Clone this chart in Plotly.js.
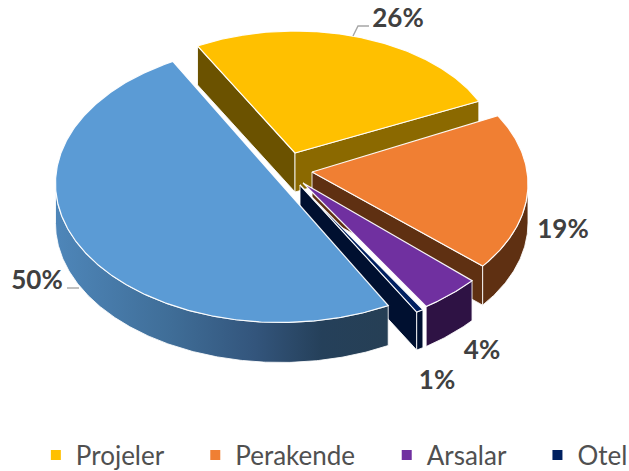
<!DOCTYPE html>
<html><head><meta charset="utf-8">
<script src="https://cdn.plot.ly/plotly-3.0.1.min.js"></script>
<style>html,body{margin:0;padding:0;background:#fff}</style></head>
<body><div id="chart" style="width:629px;height:471px"></div>
<script>
// Data
const categories = ['Projeler', 'Perakende', 'Arsalar', 'Otel', 'Konut'];
const values = [26, 19, 4, 0.5, 50];
const legendNames = ['Projeler', 'Perakende', 'Arsalar', 'Otel'];

// Styles
const topColors = ['#FFC000', '#F07F33', '#7030A0', '#002060', '#5B9BD5'];
const DEG = Math.PI / 180;
// Projection of each exploded slice (perspective makes each differ slightly)
const geom = [
  {ax:295, ay:153, cx:295, cy:153, a:203, b:122, t0:-28.7, d:39},
  {ax:312, ay:172, cx:312, cy:184, a:216, b:134, t0:59.4, d:39},
  {ax:303, ay:183, cx:303, cy:166, a:235, b:165, t0:134, d:40},
  {ax:300, ay:185, cx:300, cy:185, a:232, b:147, t0:148, d:38},
  {ax:280.5, ay:183.5, cx:280.5, cy:183.5, a:225, b:139, t0:151.4, d:40}
];
const sweep = i => values[i] / 100 * 360;
const pt = (g, t, dy = 0) => [g.cx + g.a * Math.sin(t * DEG), g.cy - g.b * Math.cos(t * DEG) + dy];
function arc(g, t1, t2, dy = 0) {
  const n = Math.max(2, Math.ceil(Math.abs(t2 - t1) * 2));
  const out = [];
  for (let k = 0; k <= n; k++) out.push(pt(g, t1 + (t2 - t1) * k / n, dy));
  return out;
}
function poly(points, fill, extra = {}) {
  const closed = points.concat([points[0]]);
  return Object.assign({
    type: 'scatter', mode: 'lines', x: closed.map(p => p[0]), y: closed.map(p => p[1]),
    fill: 'toself', fillcolor: fill, line: {color: 'rgba(255,255,255,0.85)', width: 1},
    showlegend: false, hoverinfo: 'skip'
  }, extra);
}
function topFace(i) {
  const g = geom[i];
  return poly([[g.ax, g.ay]].concat(arc(g, g.t0, g.t0 + sweep(i))), topColors[i],
    {line: {color: 'rgba(255,255,255,0.95)', width: 1.2}, name: categories[i]});
}
// Flat cut face running from the apex to the outer corner at angle t
function cutFace(i, t, color) {
  const g = geom[i], p = pt(g, t);
  return poly([[g.ax, g.ay], p, [p[0], p[1] + g.d], [g.ax, g.ay + g.d]], color);
}
// Curved outer wall between two angles
function wall(i, t1, t2, color, extra) {
  const g = geom[i];
  return poly(arc(g, t1, t2).concat(arc(g, t2, t1, g.d)), color, extra);
}
const end = i => geom[i].t0 + sweep(i);

const traces = [
  // Projeler
  cutFace(0, geom[0].t0, '#6B5200'),
  cutFace(0, end(0), '#8B6900'),
  topFace(0),
  // Perakende
  cutFace(1, end(1), '#5F3012'),
  wall(1, 90, end(1), '#5F3012'),
  topFace(1),
  // Arsalar
  wall(2, geom[2].t0, end(2), '#2E1244'),
  topFace(2),
  // Otel
  cutFace(3, end(3), '#001030'),
  wall(3, geom[3].t0, end(3), '#001030'),
  topFace(3),
  // Konut
  wall(4, 270, geom[4].t0, '#3F6D97', {
    fillgradient: {type: 'horizontal', colorscale: [
      [0, '#4E86B9'], [0.35, '#3F6D97'], [0.6, '#33557C'], [0.8, '#25405A'], [1, '#263F55']]}
  }),
  topFace(4)
];

// Percent labels
const labelX = [398, 563, 482, 437, 37];
const labelY = [20, 231, 352, 382, 282];
traces.push({
  type: 'scatter', mode: 'text', x: labelX, y: labelY, cliponaxis: false,
  text: values.map(v => Math.round(v + 0.01) + '%'), textposition: 'middle center',
  textfont: {family: 'Lato, sans-serif', size: 26, color: '#404040', weight: 700},
  showlegend: false, hoverinfo: 'skip'
});
// Leader lines
const leader = (x, y) => ({type: 'scatter', mode: 'lines', x, y,
  line: {color: '#A6A6A6', width: 1.4}, showlegend: false, hoverinfo: 'skip'});
traces.push(leader([353, 358, 369], [36, 26, 26]));
traces.push(leader([67, 79], [288, 288]));

// Legend entries
const pad = '\u00A0\u00A0\u00A0\u00A0';
legendNames.forEach((n, i) => traces.push({
  type: 'scatter', mode: 'markers', x: [null], y: [null],
  name: i < legendNames.length - 1 ? n + pad : n,
  marker: {symbol: 'square', size: 10, color: topColors[i]}, hoverinfo: 'skip'
}));

Plotly.newPlot('chart', traces, {
  width: 629, height: 471, autosize: false,
  margin: {l: 0, r: 0, t: 0, b: 0, autoexpand: false},
  paper_bgcolor: '#fff', plot_bgcolor: '#fff',
  xaxis: {range: [0, 629], visible: false, fixedrange: true},
  yaxis: {range: [471, 0], visible: false, fixedrange: true},
  legend: {orientation: 'h', x: 0.057, xanchor: 'left', y: 0.034, yanchor: 'middle',
    traceorder: 'normal', font: {family: 'Lato, sans-serif', size: 26, color: '#505050'}},
  showlegend: true
}, {displayModeBar: false, staticPlot: true});
</script></body></html>
